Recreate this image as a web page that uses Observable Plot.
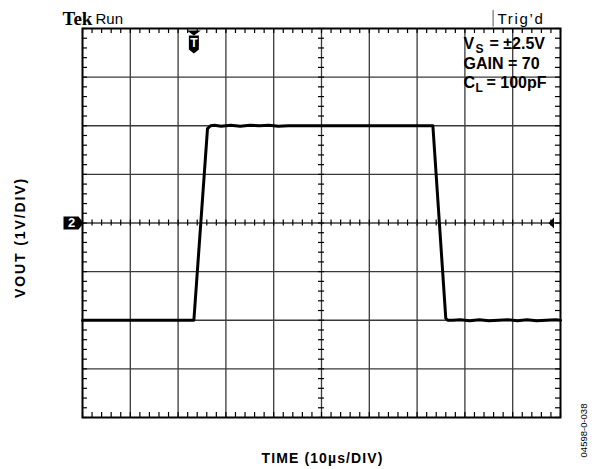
<!DOCTYPE html>
<html>
<head>
<meta charset="utf-8">
<script src="https://cdn.jsdelivr.net/npm/d3@7"></script>
<script src="https://cdn.jsdelivr.net/npm/@observablehq/plot@0.6"></script>
<style>
  html, body { margin: 0; padding: 0; background: #fff; }
  svg { display: block; }
  .ls1 text { letter-spacing: 1.1px; }
  .ls2 text { letter-spacing: 1.7px; }
  .ls3 text { letter-spacing: 1.9px; }
</style>
</head>
<body>
<div id="chart"></div>
<script>
// ---- data ----
// time in microseconds (10 µs/div, 10 divisions), output in volts (1 V/div)
const timeUs = [0, 23.3, 26.15, 26.8, 27.6, 29, 31, 33, 35, 37, 39, 41, 43, 45, 50, 60, 70, 73.3, 76.0, 76.4, 77.5, 79, 81, 83, 85, 87, 89, 91, 93, 95, 97, 99, 100];
const vout   = [-2, -2, 1.94, 2.0, 2.01, 1.99, 2.01, 1.99, 2.01, 2.0, 2.01, 1.99, 2.0, 2.0, 2.0, 2.0, 2.0, 2.0, -1.96, -2.0, -2.0, -1.99, -2.01, -1.99, -2.01, -2.0, -1.99, -2.01, -1.99, -2.01, -2.0, -1.99, -2.0];

const majorX = [10, 20, 30, 40, 50, 60, 70, 80, 90];
const majorY = [-3, -2, -1, 0, 1, 2, 3];
const xDomain = [0, 100];
const yDomain = [-4, 4];
const minorX = d3.range(0, 100.001, 2);
const minorY = d3.range(-4, 4.001, 0.2);

const triggerTime = 23.3;
const channelLevel = 0;
const annotations = ["Tek", "Run", "Trig\u2019d", "GAIN = 70"];
const xLabel = "TIME (10\u00b5s/DIV)";
const yLabel = "VOUT (1V/DIV)";
const code = "04598-0-038";

const data = timeUs.map((t, i) => ({t, v: vout[i]}));

// ---- custom marker shapes ----
const triDown = {draw(c) { c.moveTo(-7, 2); c.lineTo(7, 2); c.lineTo(0, 7); c.closePath(); }};
const shield = {draw(c) { c.moveTo(-5, 7); c.lineTo(5, 7); c.lineTo(5, 21); c.lineTo(0, 25); c.lineTo(-5, 21); c.closePath(); }};
const chTag = {draw(c) { c.moveTo(-19, -6.5); c.lineTo(-4, -6.5); c.lineTo(1, 0); c.lineTo(-4, 6.5); c.lineTo(-19, 6.5); c.closePath(); }};
const triLeft = {draw(c) { c.moveTo(-12, 0); c.lineTo(-6.5, -5.5); c.lineTo(-6.5, 5.5); c.closePath(); }};

const FW = 478, FH = 389; // frame size in px
const gridColor = "#3a3a3a";
const tickLen = 5;
const bold = {fontWeight: "bold", fontFamily: "Liberation Sans, Arial, sans-serif", fill: "black"};

const chart = Plot.plot({
  width: 605,
  height: 469,
  marginLeft: 82,
  marginRight: 45,
  marginTop: 28,
  marginBottom: 52,
  style: {fontFamily: "Liberation Sans, Arial, sans-serif", background: "white"},
  x: {domain: xDomain, axis: null},
  y: {domain: yDomain, axis: null},
  marks: [
    // grid
    Plot.ruleX(majorX, {stroke: gridColor, strokeWidth: 1.3}),
    Plot.ruleY(majorY, {stroke: gridColor, strokeWidth: 1.3}),
    // minor ticks on edges
    Plot.ruleX(minorX, {stroke: "black", strokeWidth: 1.2, insetBottom: FH - tickLen}),
    Plot.ruleX(minorX, {stroke: "black", strokeWidth: 1.2, insetTop: FH - tickLen}),
    Plot.ruleY(minorY, {stroke: "black", strokeWidth: 1.2, insetRight: FW - tickLen}),
    Plot.ruleY(minorY, {stroke: "black", strokeWidth: 1.2, insetLeft: FW - tickLen}),
    // minor ticks on centre lines
    Plot.ruleX(minorX, {stroke: "black", strokeWidth: 1.2, insetTop: FH / 2 - 3, insetBottom: FH / 2 - 3}),
    Plot.ruleY(minorY, {stroke: "black", strokeWidth: 1.2, insetLeft: FW / 2 - 3, insetRight: FW / 2 - 3}),
    Plot.frame({stroke: "black", strokeWidth: 2}),
    // signal
    Plot.line(data, {x: "t", y: "v", stroke: "black", strokeWidth: 3, strokeLinejoin: "round"}),
    // markers
    Plot.dot([triggerTime], {x: d => d, y: () => yDomain[1], symbol: triDown, fill: "black", stroke: "none"}),
    Plot.dot([triggerTime], {x: d => d, y: () => yDomain[1], symbol: shield, fill: "black", stroke: "none"}),
    Plot.text(["T"], {x: () => triggerTime, y: () => yDomain[1], dy: 15, text: d => d, ...bold, fill: "white", fontSize: 12}),
    Plot.dot([channelLevel], {x: () => xDomain[0], y: d => d, symbol: chTag, fill: "black", stroke: "none"}),
    Plot.text(["2"], {x: () => xDomain[0], y: () => channelLevel, dx: -11, text: d => d, ...bold, fill: "white", fontSize: 13}),
    Plot.dot([channelLevel], {x: () => xDomain[1], y: d => d, symbol: triLeft, fill: "black", stroke: "none"}),
    // header
    Plot.text([annotations[0]], {frameAnchor: "top-left", textAnchor: "start", lineAnchor: "bottom", dx: -20, dy: -4, text: d => d, fontFamily: "Liberation Serif, Times New Roman, serif", fontWeight: "bold", fontSize: 19, fill: "black"}),
    Plot.text([annotations[1]], {frameAnchor: "top-left", textAnchor: "start", lineAnchor: "bottom", dx: 13, dy: -5, text: d => d, fontSize: 15, fill: "black"}),
    Plot.text([annotations[2]], {frameAnchor: "top-left", textAnchor: "start", lineAnchor: "bottom", dx: 415, dy: -5, text: d => d, fontSize: 15, fill: "black", className: "ls2"}),
    Plot.ruleX([85.9], {y1: 4.37, y2: 4.03, stroke: "#555", strokeWidth: 1}),
    // conditions
    Plot.text(["V"], {frameAnchor: "top-left", textAnchor: "start", lineAnchor: "bottom", dx: 381, dy: 20, text: d => d, ...bold, fontSize: 16}),
    Plot.text(["S"], {frameAnchor: "top-left", textAnchor: "start", lineAnchor: "bottom", dx: 393, dy: 24, text: d => d, ...bold, fontSize: 12}),
    Plot.text(["= \u00b12.5V"], {frameAnchor: "top-left", textAnchor: "start", lineAnchor: "bottom", dx: 407, dy: 20, text: d => d, ...bold, fontSize: 16}),
    Plot.text([annotations[3]], {frameAnchor: "top-left", textAnchor: "start", lineAnchor: "bottom", dx: 381, dy: 40, text: d => d, ...bold, fontSize: 16}),
    Plot.text(["C"], {frameAnchor: "top-left", textAnchor: "start", lineAnchor: "bottom", dx: 381, dy: 59, text: d => d, ...bold, fontSize: 16}),
    Plot.text(["L"], {frameAnchor: "top-left", textAnchor: "start", lineAnchor: "bottom", dx: 393, dy: 63, text: d => d, ...bold, fontSize: 12}),
    Plot.text(["= 100pF"], {frameAnchor: "top-left", textAnchor: "start", lineAnchor: "bottom", dx: 404, dy: 59, text: d => d, ...bold, fontSize: 16}),
    // axis labels
    Plot.text([yLabel], {frameAnchor: "left", textAnchor: "middle", lineAnchor: "middle", rotate: -90, dx: -62, dy: 14.5, text: d => d, ...bold, fontSize: 14, className: "ls3"}),
    Plot.text([xLabel], {frameAnchor: "bottom", textAnchor: "middle", lineAnchor: "middle", dx: 1, dy: 41.5, text: d => d, ...bold, fontSize: 14, className: "ls1"}),
    Plot.text([code], {frameAnchor: "bottom-right", textAnchor: "middle", lineAnchor: "middle", rotate: -90, dx: 23, dy: 13, text: d => d, fontSize: 9.5, fill: "black"})
  ]
});
document.getElementById("chart").appendChild(chart);
</script>
</body>
</html>
